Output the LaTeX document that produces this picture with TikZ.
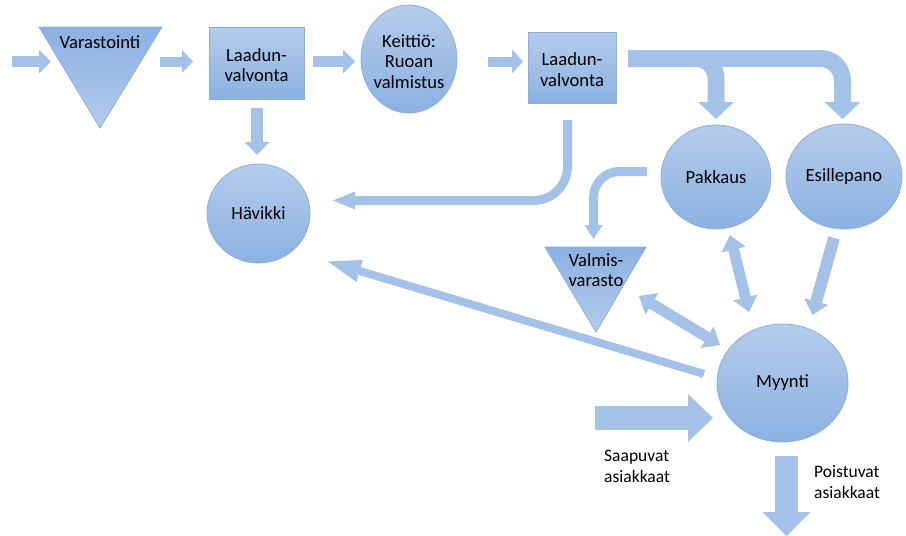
\documentclass[tikz,border=0pt]{standalone}
\usepackage{fontspec}
\setmainfont{Carlito}
\usetikzlibrary{arrows.meta,shapes.geometric}
\definecolor{shtop}{RGB}{181,204,236}
\definecolor{shbot}{RGB}{139,177,225}
\definecolor{bordc}{RGB}{138,174,221}
\definecolor{arrc}{RGB}{164,193,232}
\newcommand\myNodeFont{\fontsize{18.6}{20.6}\selectfont}
\newcommand\myLblFont{\fontsize{17.5}{21}\selectfont}
\begin{document}
\begin{tikzpicture}[x=1pt,y=-1pt,
  shp/.style={draw=bordc,line width=0.8pt,top color=shtop,bottom color=shbot,inner sep=0pt,font=\myNodeFont,align=center,text=black},
  boxshape/.style={shp,rectangle},
  ellshape/.style={shp,ellipse},
  trishape/.style={draw=bordc,line width=0.8pt,top color=shbot,bottom color=shtop},
  txt/.style={inner sep=0pt,font=\myNodeFont,align=center,text=black},
  lbl/.style={inner sep=0pt,font=\myLblFont,align=left,text=black,anchor=north west},
  blk/.style={draw=arrc,line cap=butt,line join=round},
]
\useasboundingbox (0,0) rectangle (906,536);

% shapes
\shadedraw[trishape] (39,27) -- (162,27) -- (100,128) -- cycle;
\node[txt,anchor=base] (var) at (100,48) {Varastointi};
\node[boxshape,minimum width=95pt,minimum height=72pt] (qc1) at (256.5,63) {};
\node[txt] (qc1t) at (256.5,65) {Laadun-\\valvonta};
\node[ellshape,minimum width=96pt,minimum height=108pt] (kei) at (409,59) {};
\node[txt] (keit) at (409,61.5) {Keittiö:\\Ruoan\\valmistus};
\node[boxshape,minimum width=88pt,minimum height=71pt] (qc2) at (572,67.5) {};
\node[txt] (qc2t) at (572,69.5) {Laadun-\\valvonta};
\node[ellshape,minimum width=103pt,minimum height=99pt] (hav) at (258.5,213.5) {Hävikki};
\node[ellshape,minimum width=110pt,minimum height=104pt] (pak) at (716,177) {Pakkaus};
\node[ellshape,minimum width=116pt,minimum height=105pt] (esi) at (844,176.5) {Esillepano};
\shadedraw[trishape] (545,247) -- (646,247) -- (596,332) -- cycle;
\node[txt] (valm) at (596,270) {Valmis-\\varasto};
\node[ellshape,minimum width=131pt,minimum height=118pt] (myy) at (782.5,383) {Myynti};

% labels
\node[lbl] (saap) at (604,449.5) {Saapuvat\\asiakkaat};
\node[lbl] (poist) at (814,465) {Poistuvat\\asiakkaat};

% arrow end points
\coordinate (a1s) at (12,61.5);   \coordinate (a1e) at (51,61.5);
\coordinate (a2s) at (160,61.5);  \coordinate (a2e) at (193,61.5);
\coordinate (a3s) at (313,61.5);  \coordinate (a3e) at (355,61.5);
\coordinate (a4s) at (488,61.5);  \coordinate (a4e) at (523,61.5);
\coordinate (d1s) at (257,108);   \coordinate (d1e) at (257,155);
\coordinate (b1s) at (628,58.5);  \coordinate (b1c) at (716,58.5);  \coordinate (b1e) at (716,119);
\coordinate (b2c) at (842.5,58.5); \coordinate (b2e) at (842.5,119);
\coordinate (h1s) at (567.5,120); \coordinate (h1c) at (567.5,200.5); \coordinate (h1e) at (333,200.5);
\coordinate (p1s) at (647,171.5); \coordinate (p1c) at (593.5,171.5); \coordinate (p1e) at (593.5,239);
\coordinate (m1s) at (704,374);   \coordinate (m1e) at (328,261.5);
\coordinate (pm1) at (730,235);   \coordinate (pm2) at (749,312);
\coordinate (vm1) at (639,296);   \coordinate (vm2) at (720,345);
\coordinate (em1) at (834,238);   \coordinate (em2) at (812.5,315);
\coordinate (sa1) at (595,418);   \coordinate (sa2) at (713,418);
\coordinate (po1) at (786.5,456); \coordinate (po2) at (786.5,536);

% straight arrows, top row
\draw[blk,line width=11pt,-{Triangle[length=12pt,width=24pt,line width=0pt]}] (a1s) -- (a1e);
\draw[blk,line width=10pt,-{Triangle[length=11pt,width=23pt,line width=0pt]}] (a2s) -- (a2e);
\draw[blk,line width=11pt,-{Triangle[length=12pt,width=24pt,line width=0pt]}] (a3s) -- (a3e);
\draw[blk,line width=10pt,-{Triangle[length=11pt,width=24pt,line width=0pt]}] (a4s) -- (a4e);
\draw[blk,line width=12pt,-{Triangle[length=13pt,width=25pt,line width=0pt]}] (d1s) -- (d1e);

% bent arrows
\draw[blk,line width=17pt,rounded corners=22pt,-{Triangle[length=17pt,width=36pt,line width=0pt]}] (b1s) -- (b2c) -- (b2e);
\draw[blk,line width=17pt,rounded corners=20pt,-{Triangle[length=17pt,width=36pt,line width=0pt]}] (b1s) -- (b1c) -- (b1e);
\draw[blk,line width=9pt,rounded corners=34pt,-{Triangle[length=22pt,width=18pt,line width=0pt]}] (h1s) -- (h1c) -- (h1e);
\draw[blk,line width=9pt,rounded corners=26pt,-{Triangle[length=14pt,width=18pt,line width=0pt]}] (p1s) -- (p1c) -- (p1e);

% arrows around Myynti
\draw[blk,line width=8pt,-{Triangle[length=33pt,width=23pt,line width=0pt]}] (m1s) -- (m1e);
\draw[blk,line width=11pt,{Triangle[length=15pt,width=25pt,line width=0pt]}-{Triangle[length=15pt,width=25pt,line width=0pt]}] (pm1) -- (pm2);
\draw[blk,line width=11pt,{Triangle[length=15pt,width=25pt,line width=0pt]}-{Triangle[length=15pt,width=25pt,line width=0pt]}] (vm1) -- (vm2);
\draw[blk,line width=12pt,-{Triangle[length=14pt,width=25pt,line width=0pt]}] (em1) -- (em2);
\draw[blk,line width=24pt,-{Triangle[length=25pt,width=48pt,line width=0pt]}] (sa1) -- (sa2);
\draw[blk,line width=23pt,-{Triangle[length=24pt,width=48pt,line width=0pt]}] (po1) -- (po2);
\end{tikzpicture}
\end{document}
